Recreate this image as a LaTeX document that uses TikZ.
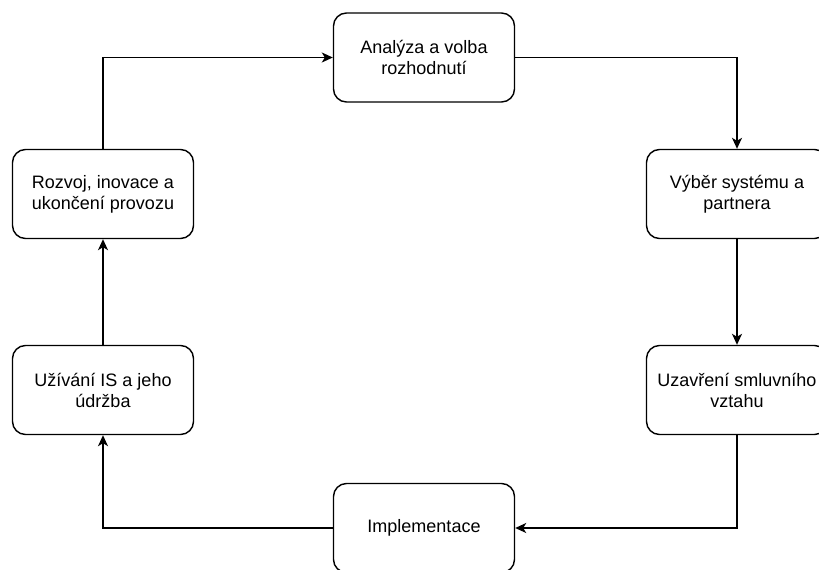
\documentclass[tikz,border=0pt]{standalone}
\usepackage{fontspec}
\setmainfont{Liberation Sans}
\usetikzlibrary{arrows.meta}

\begin{document}
\begin{tikzpicture}[
  x=1pt,y=-1pt,
  font=\fontsize{18}{21}\selectfont,
  phase/.style={draw=black,fill=white,line width=1.4pt,rounded corners=13pt,minimum width=181pt,minimum height=89pt,align=center,inner sep=0pt},
  arr/.style={-{Stealth[length=11pt,width=10pt,inset=3pt]},draw=black,line width=1.4pt}
]
\useasboundingbox (0,0) rectangle (819,570);
\node[phase] (an) at (424,57.5) {Analýza a volba\\rozhodnutí};
\node[phase] (vs) at (737,194) {Výběr systému a\\partnera};
\node[phase] (uz) at (737,390) {Uzavření smluvního\\vztahu};
\node[phase] (im) at (424,528) {Implementace};
\node[phase] (ui) at (103,390) {Užívání IS a jeho\\údržba};
\node[phase] (rz) at (103,194) {Rozvoj, inovace a\\ukončení provozu};

\draw[arr] (rz.north) |- (an.west);
\draw[arr] (an.east) -| (vs.north);
\draw[arr] (vs) -- (uz);
\draw[arr] (uz.south) |- (im.east);
\draw[arr] (im.west) -| (ui.south);
\draw[arr] (ui) -- (rz);
\end{tikzpicture}
\end{document}
